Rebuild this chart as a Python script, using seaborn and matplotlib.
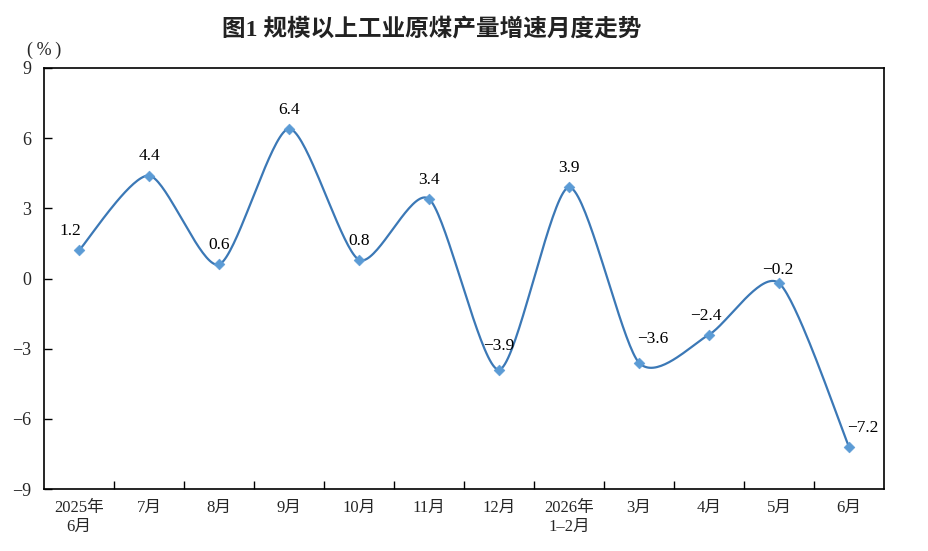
import matplotlib
matplotlib.use('Agg')
import matplotlib.pyplot as plt
import numpy as np
import pandas as pd
import seaborn as sns

months = ['2025年\n6月', '7月', '8月', '9月', '10月', '11月', '12月',
          '2026年\n1–2月', '3月', '4月', '5月', '6月']
growth = [1.2, 4.4, 0.6, 6.4, 0.8, 3.4, -3.9, 3.9, -3.6, -2.4, -0.2, -7.2]
y_ticks = [-9, -6, -3, 0, 3, 6, 9]

# label offsets in points (dx, dy)
label_offsets = [(-6, 8), (0, 8), (0, 8), (0, 8), (0, 8), (0, 8),
                 (0, 11), (0, 8), (10, 11), (-2, 8), (-1, 4), (10, 8)]

sns.set_theme(style='white')
plt.rcParams['font.family'] = ['Liberation Serif', 'Noto Sans CJK SC']
plt.rcParams['axes.unicode_minus'] = True

df = pd.DataFrame({'x': np.arange(len(months)), 'y': growth})


def cardinal(xs, ys, tension=0.25, n=40):
    # cardinal spline through the points, for a smoothed line
    px = np.concatenate([[xs[0]], xs, [xs[-1]]])
    py = np.concatenate([[ys[0]], ys, [ys[-1]]])
    t = np.linspace(0, 1, n)
    h00 = 2 * t ** 3 - 3 * t ** 2 + 1
    h10 = t ** 3 - 2 * t ** 2 + t
    h01 = -2 * t ** 3 + 3 * t ** 2
    h11 = t ** 3 - t ** 2
    out_x, out_y = [], []
    for i in range(1, len(px) - 2):
        for p, out in ((px, out_x), (py, out_y)):
            m1 = (1 - tension) * (p[i + 1] - p[i - 1]) / 2
            m2 = (1 - tension) * (p[i + 2] - p[i]) / 2
            out.extend(h00 * p[i] + h10 * m1 + h01 * p[i + 1] + h11 * m2)
    return np.array(out_x), np.array(out_y)


sx, sy = cardinal(df['x'].values.astype(float), df['y'].values)
smooth = pd.DataFrame({'x': sx, 'y': sy})

fig = plt.figure(figsize=(9.29, 5.51), dpi=100)
ax = fig.add_axes([0.0474, 0.1125, 0.9042, 0.7641])

sns.lineplot(data=smooth, x='x', y='y', ax=ax, color='#3b78b6', linewidth=1.6,
             sort=False, estimator=None)
sns.scatterplot(data=df, x='x', y='y', ax=ax, marker='D', s=30,
                color='#5b9bd5', edgecolor='#5b9bd5', zorder=3)

for i, v in enumerate(growth):
    dx, dy = label_offsets[i]
    ax.annotate(f'{v:.1f}'.replace('-', '−'), (i, v), xytext=(dx, dy),
                textcoords='offset points', ha='center', va='bottom',
                fontsize=12.5, color='black')

ax.set_xlim(-0.5, len(months) - 0.5)
ax.set_ylim(-9, 9)
ax.set_yticks(y_ticks)
ax.set_yticklabels([str(t).replace('-', '−') for t in y_ticks], fontsize=13)
ax.set_xticks(np.arange(len(months)))
ax.set_xticklabels(months, fontsize=12, linespacing=1.25)
ax.set_xticks(np.arange(0.5, len(months) - 0.5, 1), minor=True)
ax.tick_params(axis='x', which='major', length=0, pad=8)
ax.tick_params(axis='x', which='minor', direction='in', length=6,
               width=1, color='black', bottom=True)
ax.tick_params(axis='y', direction='in', length=6, width=1, color='black',
               left=True, pad=9)
ax.set_xlabel('')
ax.set_ylabel('')
for s in ax.spines.values():
    s.set_color('black')
    s.set_linewidth(1.2)

fig.text(0.465, 0.945, '图1 规模以上工业原煤产量增速月度走势', ha='center',
         va='center', fontsize=17, fontweight='bold', color='#222222')
fig.text(0.0475, 0.908, '(\u2009%\u2009)', ha='center', va='center',
         fontsize=13, family=['Liberation Serif', 'DejaVu Sans'])

fig.savefig('out.png', dpi=100)
